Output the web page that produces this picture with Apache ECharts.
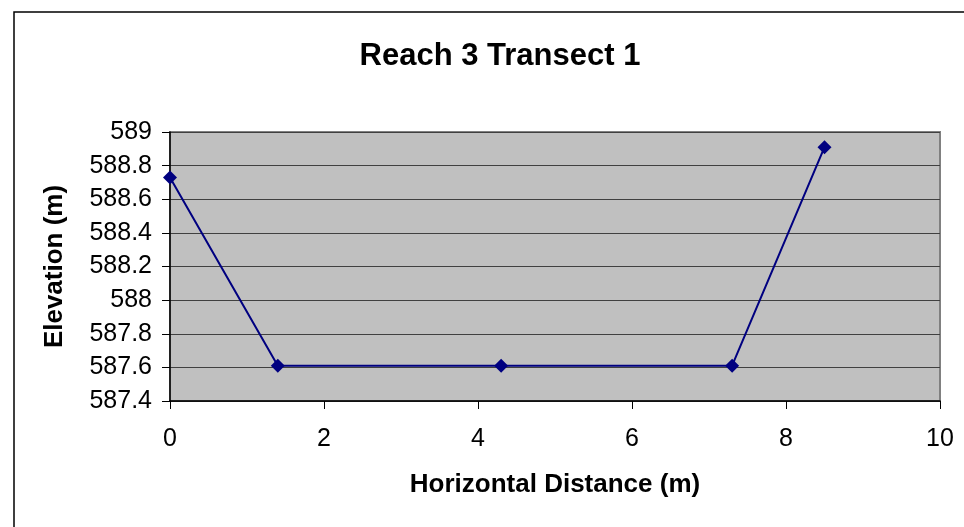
<!DOCTYPE html>
<html>
<head>
<meta charset="utf-8">
<script src="https://cdn.jsdelivr.net/npm/echarts@6/dist/echarts.min.js"></script>
<style>
html,body{margin:0;padding:0;background:#fff;}
#chart{width:964px;height:527px;}
</style>
</head>
<body>
<div id="chart"></div>
<script>
//横向距离 (m)
var distance = [0, 1.4, 4.3, 7.3, 8.5];
//高程 (m)
var elevation = [588.73, 587.61, 587.61, 587.61, 588.91];

var points = [];
for (var i = 0; i < distance.length; i++) {
    points.push([distance[i], elevation[i]]);
}

var chart = echarts.init(document.getElementById('chart'));
var option = {
    backgroundColor: '#ffffff',
    animation: false,
    title: {
        text: 'Reach 3 Transect 1',
        left: 495,
        top: 36,
        textAlign: 'center',
        textStyle: {
            fontFamily: 'Liberation Sans',
            fontSize: 31,
            fontWeight: 'bold',
            color: '#000'
        }
    },
    graphic: [{
        type: 'rect',
        shape: { x: 14, y: 12, width: 1000, height: 600 },
        style: { fill: 'none', stroke: '#000', lineWidth: 1.5 },
        z: -1
    }],
    grid: {
        left: 170,
        top: 132,
        right: 24,
        bottom: 126,
        show: true,
        backgroundColor: '#c0c0c0',
        borderColor: '#808080',
        borderWidth: 2
    },
    xAxis: {
        type: 'value',
        min: 0,
        max: 10,
        interval: 2,
        name: 'Horizontal Distance (m)',
        nameLocation: 'middle',
        nameGap: 71,
        nameTextStyle: {
            fontFamily: 'Liberation Sans',
            fontSize: 26,
            fontWeight: 'bold',
            color: '#000'
        },
        axisLine: { lineStyle: { color: '#000', width: 1.5 } },
        axisTick: { show: true, length: 8, inside: false, lineStyle: { color: '#000' } },
        axisLabel: {
            margin: 26,
            fontFamily: 'Liberation Sans',
            fontSize: 25,
            color: '#000'
        },
        splitLine: { show: false }
    },
    yAxis: {
        type: 'value',
        min: 587.4,
        max: 589,
        interval: 0.2,
        name: 'Elevation (m)',
        nameLocation: 'middle',
        nameGap: 102,
        nameTextStyle: {
            fontFamily: 'Liberation Sans',
            fontSize: 26,
            fontWeight: 'bold',
            color: '#000'
        },
        axisLine: { show: true, lineStyle: { color: '#000', width: 1.5 } },
        axisTick: { show: true, length: 8, lineStyle: { color: '#000' } },
        axisLabel: {
            margin: 18,
            fontFamily: 'Liberation Sans',
            fontSize: 25,
            color: '#000',
            formatter: function (v) {
                return parseFloat(v.toFixed(1)).toString();
            }
        },
        splitLine: { show: true, lineStyle: { color: '#404040', width: 1 } }
    },
    series: [{
        type: 'line',
        data: points,
        symbol: 'diamond',
        symbolSize: 14,
        itemStyle: { color: '#000080' },
        lineStyle: { color: '#000080', width: 2 }
    }]
};
chart.setOption(option);
</script>
</body>
</html>
